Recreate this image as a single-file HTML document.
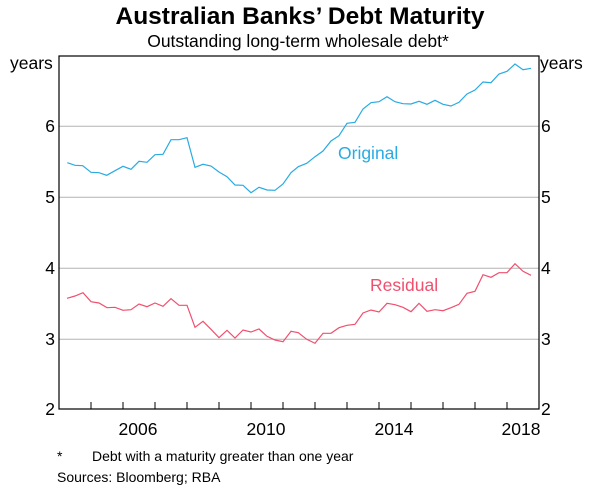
<!DOCTYPE html>
<html><head><meta charset="utf-8"><style>
body{margin:0;background:#fff}
svg text{font-family:"Liberation Sans",Arial,sans-serif}
</style></head><body>
<svg width="600" height="489" viewBox="0 0 600 489" xmlns="http://www.w3.org/2000/svg">
<rect width="600" height="489" fill="#fff"/>
<text x="300" y="24" text-anchor="middle" font-size="24.5" font-weight="bold">Australian Banks’ Debt Maturity</text>
<text x="298" y="47" text-anchor="middle" font-size="17.5">Outstanding long-term wholesale debt*</text>
<g stroke="#b3b3b3" stroke-width="1">
<line x1="59" y1="126.3" x2="539" y2="126.3"/>
<line x1="59" y1="197.3" x2="539" y2="197.3"/>
<line x1="59" y1="268.3" x2="539" y2="268.3"/>
<line x1="59" y1="339.3" x2="539" y2="339.3"/>
</g>
<polyline fill="none" stroke="#29abe2" stroke-width="1.2" points="67.3,162.7 75,165.3 82.7,165.7 91,172.3 99,172.7 106.7,175.3 115,170.7 123,166.3 131,169.3 139,161.3 147,162.3 155,154.7 163,154.3 171,139.7 179,139.7 187,137.7 195,167.3 203,164.3 211,166 219,172 227,176.7 235,185 243,185.3 251,192.7 259,187.3 267,190 275,190.3 283,184 291,172.7 298.3,166.7 306.7,163.3 315,156.7 323,151 331,141 339,135.7 347,123.3 355,122.3 363,109 371,102.7 379,101.7 387,96.7 395,101.7 403,103.7 411,104 419,101.3 427,104.3 435,100.3 443,104.3 451,106 459,102.3 467,94 475,90 483,82 491,82.7 499,74 507,71.3 515,64 523,69.7 531,68.3"/>
<polyline fill="none" stroke="#f0506e" stroke-width="1.2" points="67,298.3 75,296 83,292.7 91,301.7 99,303 107,307.7 115,307.3 123,310.3 131,309.7 139,304 147,306.7 155,303 163,306.3 171,298.7 179,305.3 187,305.3 195,327.3 203,321.3 211,329.3 219,337.7 227,330.3 235,338 243,330 251,332 259,329 267,336.3 275,340 283,341.7 291,331.3 298.3,332.7 306.7,339.3 315,343.3 323,333.3 331,333.3 339,327.7 347,325.3 355,324.3 363,313 371,310 379,312 387,303.3 395,304.7 403,307.3 411,311.7 419,303.3 427,311.3 435,309.7 443,310.7 451,307.7 459,304.3 467,293.3 475,291.3 483,274.7 491,277.3 499,272.7 507,272.7 515,263.7 523,271.3 531,275.3"/>
<rect x="59" y="56" width="480" height="353" fill="none" stroke="#000" stroke-width="1.2"/>
<g stroke="#000" stroke-width="1">
<line x1="91" y1="409" x2="91" y2="402"/><line x1="123" y1="409" x2="123" y2="402"/><line x1="155" y1="409" x2="155" y2="402"/><line x1="187" y1="409" x2="187" y2="402"/><line x1="219" y1="409" x2="219" y2="402"/><line x1="251" y1="409" x2="251" y2="402"/><line x1="283" y1="409" x2="283" y2="402"/><line x1="315" y1="409" x2="315" y2="402"/><line x1="347" y1="409" x2="347" y2="402"/><line x1="379" y1="409" x2="379" y2="402"/><line x1="411" y1="409" x2="411" y2="402"/><line x1="443" y1="409" x2="443" y2="402"/><line x1="475" y1="409" x2="475" y2="402"/><line x1="507" y1="409" x2="507" y2="402"/>
</g>
<g font-size="17.5">
<text x="10" y="69">years</text>
<text x="540" y="69">years</text>
<g text-anchor="end"><text x="55" y="132">6</text><text x="55" y="203">5</text><text x="55" y="274">4</text><text x="55" y="345">3</text><text x="55" y="415">2</text></g>
<g><text x="541" y="132">6</text><text x="541" y="203">5</text><text x="541" y="274">4</text><text x="541" y="345">3</text><text x="541" y="415">2</text></g>
<g text-anchor="middle"><text x="138" y="435">2006</text><text x="266" y="435">2010</text><text x="394" y="435">2014</text><text x="521" y="435">2018</text></g>
<text x="338" y="159" fill="#29abe2">Original</text>
<text x="370" y="291" fill="#f0506e">Residual</text>
</g>
<g font-size="14">
<text x="57" y="461">*</text>
<text x="92" y="461">Debt with a maturity greater than one year</text>
<text x="57" y="482">Sources:   Bloomberg; RBA</text>
</g>
</svg>
</body></html>
